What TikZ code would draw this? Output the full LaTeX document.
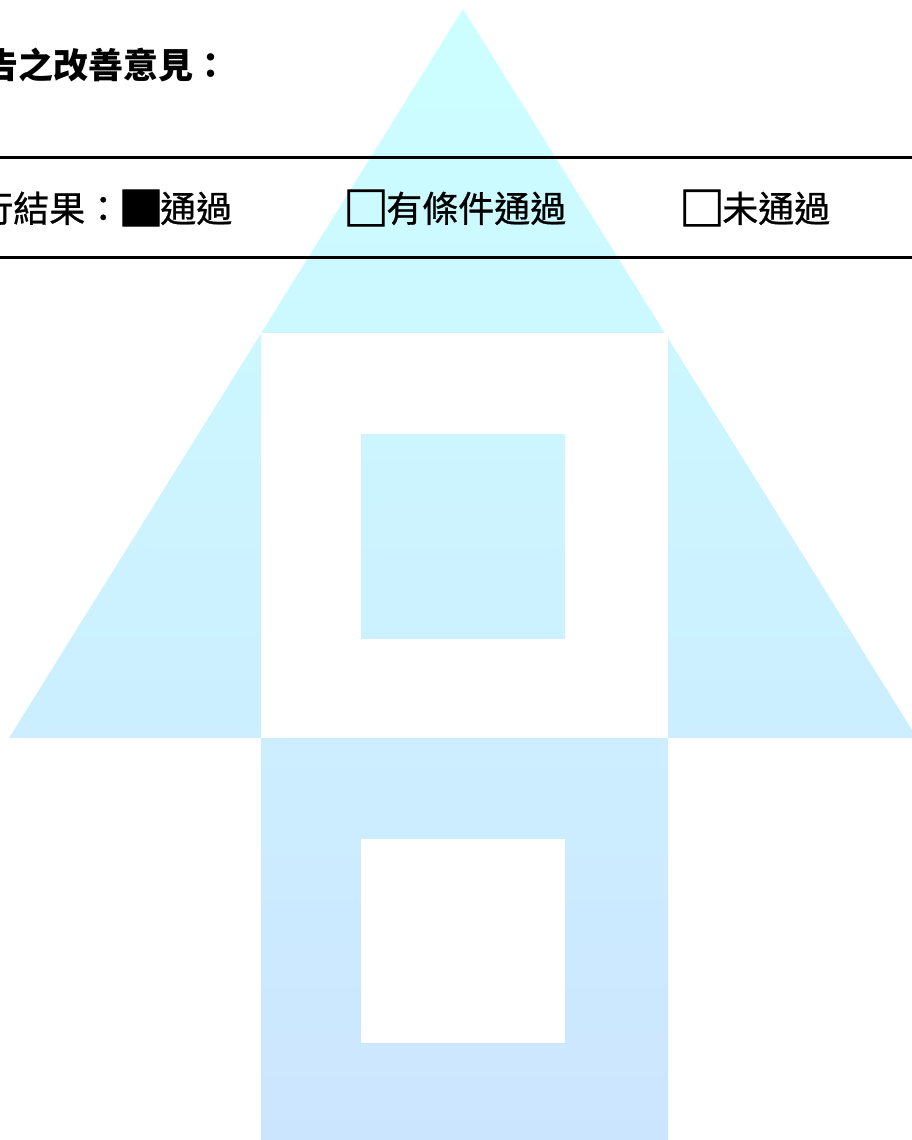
\documentclass[tikz,border=0pt]{standalone}
\usepackage{fontspec}
\newfontfamily\cjk{Noto Sans CJK TC}
\newfontfamily\cjkm[FakeBold=0.8]{Noto Sans CJK TC}
\newfontfamily\cjkb[FakeBold=2]{Noto Sans CJK TC}
\definecolor{wmtop}{RGB}{204,255,255}
\definecolor{wmbot}{RGB}{204,229,255}
\tikzset{
  wmshade/.style={top color=wmtop, bottom color=wmbot, draw=none},
  rule/.style={line width=2.6pt, black},
  ltext/.style={anchor=base west, inner sep=0pt, font=\cjk\bfseries\fontsize{26.25pt}{30pt}\selectfont},
  rtext/.style={anchor=base west, inner sep=0pt, font=\cjkm\fontsize{27pt}{31pt}\selectfont},
  boxglyph/.style={anchor=center, inner sep=0pt, font=\cjkb\fontsize{34pt}{38pt}\selectfont}
}
\begin{document}
\begin{tikzpicture}[x=0.75pt,y=-0.75pt]
\useasboundingbox (0,0) rectangle (912,1140);
% watermark
\begin{scope}
  \clip (463,9) -- (9,738) -- (917,738) -- cycle;
  \shade[wmshade] (0,0) rectangle (912,1140);
\end{scope}
\fill[white] (261,333) rectangle (668,738);
\begin{scope}
  \clip (361,434) rectangle (565,638);
  \shade[wmshade] (0,0) rectangle (912,1140);
\end{scope}
\begin{scope}
  \clip (261,738) rectangle (668,1140);
  \shade[wmshade] (0,0) rectangle (912,1140);
\end{scope}
\fill[white] (361,839) rectangle (565,1043);
% text
\node[ltext] (t1) at (-17,78) {告之改善意見：};
\coordinate (l1a) at (0,157.5);
\coordinate (l1b) at (912,157.5);
\coordinate (l2a) at (0,257.5);
\coordinate (l2b) at (912,257.5);
\draw[rule] (l1a) -- (l1b);
\draw[rule] (l2a) -- (l2b);
\node[rtext] (r0) at (-23,222) {行結果：};
\node[boxglyph] (b1) at (141,208) {■};
\node[rtext] (r1) at (160,222) {通過};
\node[boxglyph] (b2) at (366,208) {□};
\node[rtext] (r2) at (386,222) {有條件通過};
\node[boxglyph] (b3) at (702,208) {□};
\node[rtext] (r3) at (722,222) {未通過};
\end{tikzpicture}
\end{document}
